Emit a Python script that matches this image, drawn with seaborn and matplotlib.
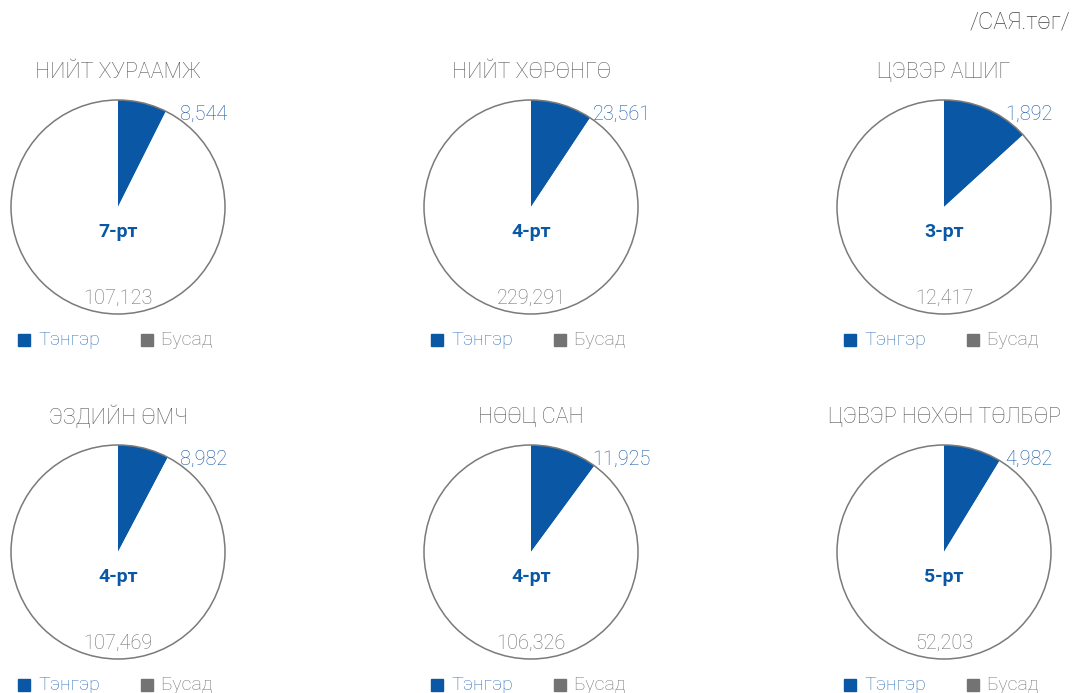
import matplotlib
matplotlib.use("Agg")
import matplotlib.pyplot as plt
from matplotlib.patches import Circle, Rectangle
import seaborn as sns

sns.set_theme(style="white")
plt.rcParams['font.family'] = ['Roboto', 'DejaVu Sans']

titles = ["НИЙТ ХУРААМЖ", "НИЙТ ХӨРӨНГӨ", "ЦЭВЭР АШИГ",
          "ЭЗДИЙН ӨМЧ", "НӨӨЦ САН", "ЦЭВЭР НӨХӨН ТӨЛБӨР"]
tenger = [8544, 23561, 1892, 8982, 11925, 4982]
busad = [107123, 229291, 12417, 107469, 106326, 52203]
ranks = ["7-рт", "4-рт", "3-рт", "4-рт", "4-рт", "5-рт"]
legend_labels = ["Тэнгэр", "Бусад"]
unit_label = "/САЯ.төг/"

BLUE = "#0a58a5"
GRAY = "#737373"
OUTLINE = "#7a7a7a"

W, H = 1077, 693
fig = plt.figure(figsize=(W / 100, H / 100), dpi=100)

centers_x = [118, 531, 944]
centers_y = [207, 552]
R = 107
LIM = 1.3
half = R * LIM

def fmt(v):
    return f"{v:,}"

for i in range(6):
    cx = centers_x[i % 3]
    cy = centers_y[i // 3]
    ax = fig.add_axes([(cx - half) / W, (H - cy - half) / H, 2 * half / W, 2 * half / H])
    ax.pie([tenger[i], busad[i]], colors=[BLUE, "white"], startangle=90,
           counterclock=False, radius=1, wedgeprops=dict(linewidth=0))
    ax.add_patch(Circle((0, 0), 1, fill=False, edgecolor=OUTLINE, linewidth=1.1))
    ax.set_xlim(-LIM, LIM)
    ax.set_ylim(-LIM, LIM)
    ax.set_aspect("equal")
    ax.axis("off")
    # title
    ax.text(0, 1.26, titles[i], ha="center", va="center", fontsize=15.5,
            color="#585858", fontweight="light")
    # rank
    ax.text(0, -0.235, ranks[i], ha="center", va="center", fontsize=14,
            color=BLUE, fontweight="bold")
    # values
    ax.text(0.575, 0.87, fmt(tenger[i]), ha="left", va="center", fontsize=14.3,
            color="#1257a6", fontweight="light")
    ax.text(0, -0.85, fmt(busad[i]), ha="center", va="center", fontsize=14.3,
            color="#6e6e6e", fontweight="light")
    # legend
    ly = cy + 133
    lx = cx - 100
    fig.patches.append(Rectangle((lx / W, (H - ly - 6) / H), 12 / W, 12 / H,
                                 transform=fig.transFigure, color=BLUE, figure=fig))
    fig.text((lx + 20) / W, (H - ly) / H, legend_labels[0], ha="left", va="center",
             fontsize=14, color="#3574bd", fontweight="light")
    fig.patches.append(Rectangle(((lx + 123) / W, (H - ly - 6) / H), 12 / W, 12 / H,
                                 transform=fig.transFigure, color=GRAY, figure=fig))
    fig.text((lx + 142) / W, (H - ly) / H, legend_labels[1], ha="left", va="center",
             fontsize=14, color="#777777", fontweight="light")

fig.text(1070 / W, (H - 22) / H, unit_label, ha="right", va="center",
         fontsize=17, color="#444444", fontweight="light")

fig.savefig("out.png", dpi=100, facecolor="white")
